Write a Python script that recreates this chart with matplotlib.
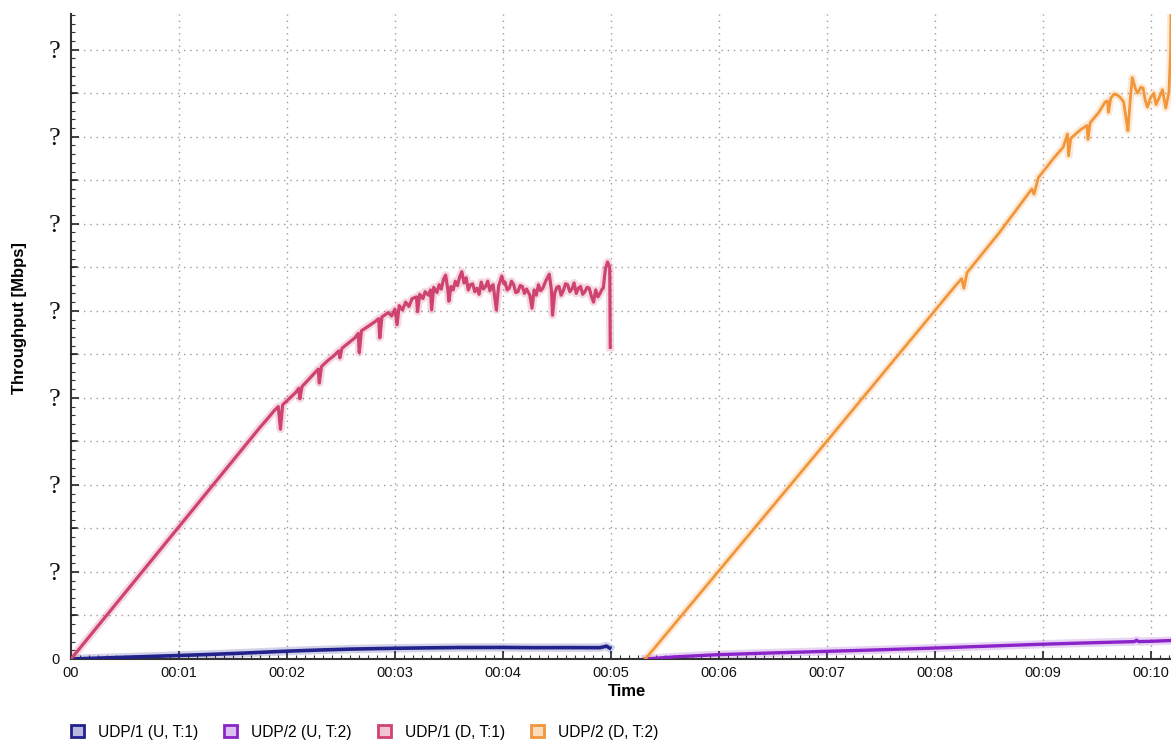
import matplotlib
matplotlib.use('Agg')  # headless backend
from matplotlib import pyplot as plt
from matplotlib.patches import Patch
from matplotlib.ticker import MultipleLocator

plt.rcParams['font.family'] = ['Liberation Sans', 'DejaVu Sans']

# time in minutes, throughput in Mbps
up1_t = [0.0, 0.3, 0.6, 1.0, 1.3, 1.6, 2.0, 2.3, 2.6, 3.0, 3.3, 3.6, 4.0, 4.3, 4.6, 4.9, 4.96, 4.99]
up1_v = [0, 1.2, 2.4, 4.0, 5.3, 6.8, 9.0, 10.3, 11.4, 12.3, 12.8, 13.2, 13.3, 13.0, 13.1, 13.0, 14.8, 12.5]

up2_t = [5.32, 5.6, 6.0, 6.5, 7.0, 7.5, 8.0, 8.5, 9.0, 9.5, 9.85, 9.87, 9.89, 10.0, 10.3]
up2_v = [0, 2.5, 5.0, 7.0, 8.8, 10.6, 12.6, 14.8, 17.0, 18.8, 20.0, 21.5, 20.0, 20.3, 21.8]

down1_t = [0.00, 1.75, 1.82, 1.88, 1.92, 1.94, 1.96, 2.02, 2.08, 2.11, 2.12, 2.14, 2.20, 2.26,
           2.29, 2.30, 2.32, 2.38, 2.44, 2.48, 2.49, 2.51, 2.57, 2.63, 2.66, 2.67, 2.69, 2.75,
           2.81, 2.85, 2.86, 2.88, 2.94, 2.97, 3.00, 3.02, 3.04, 3.07, 3.10, 3.13, 3.16, 3.20,
           3.21, 3.23, 3.26, 3.28, 3.31, 3.33, 3.34, 3.36, 3.39, 3.41, 3.43, 3.45, 3.47, 3.49,
           3.50, 3.52, 3.54, 3.56, 3.58, 3.60, 3.62, 3.64, 3.66, 3.68, 3.70, 3.72, 3.74, 3.76,
           3.78, 3.80, 3.82, 3.84, 3.86, 3.88, 3.90, 3.91, 3.94, 3.96, 3.99, 4.01, 4.02, 4.04,
           4.06, 4.08, 4.10, 4.12, 4.14, 4.16, 4.18, 4.20, 4.22, 4.25, 4.27, 4.29, 4.31, 4.33,
           4.35, 4.37, 4.40, 4.43, 4.45, 4.46, 4.48, 4.50, 4.52, 4.54, 4.56, 4.58, 4.60, 4.62,
           4.64, 4.66, 4.68, 4.70, 4.72, 4.74, 4.76, 4.78, 4.80, 4.82, 4.84, 4.86, 4.88, 4.90,
           4.92, 4.93, 4.95, 4.97, 4.99, 4.995]
down1_v = [0, 266, 276, 285, 290, 264, 292, 299, 306, 311, 299, 313, 321, 329,
           333, 317, 336, 343, 349, 354, 346, 357, 363, 369, 374, 352, 377, 382,
           387, 391, 369, 393, 398, 394, 402, 384, 406, 401, 410, 405, 414, 416,
           399, 419, 414, 422, 418, 424, 401, 427, 421, 430, 425, 436, 441, 425,
           411, 428, 424, 434, 429, 439, 445, 432, 438, 424, 430, 431, 422, 426,
           419, 433, 425, 428, 434, 423, 429, 430, 401, 428, 440, 431, 433, 424,
           426, 434, 430, 421, 422, 429, 428, 420, 425, 418, 403, 424, 418, 430,
           423, 426, 435, 442, 424, 395, 420, 427, 428, 418, 423, 431, 430, 422,
           425, 432, 420, 426, 428, 419, 422, 427, 426, 417, 410, 424, 416, 420,
           425, 426, 448, 456, 450, 358]

down2_t = [5.32, 7.0, 7.9, 8.2, 8.25, 8.27, 8.3, 8.6, 8.9, 8.92, 8.96, 9.1, 9.19, 9.23, 9.24,
           9.26, 9.35, 9.41, 9.42, 9.44, 9.52, 9.58, 9.60, 9.61, 9.63, 9.66, 9.69, 9.72, 9.75,
           9.78, 9.79, 9.81, 9.83, 9.86, 9.88, 9.91, 9.93, 9.95, 9.97, 10.0, 10.03, 10.05,
           10.08, 10.11, 10.14, 10.17, 10.185, 10.19]
down2_v = [0, 250, 385, 430, 437, 426, 444, 490, 540, 534, 553, 575, 588, 603, 578,
           598, 608, 613, 597, 616, 628, 640, 641, 628, 644, 649, 648, 645, 640,
           615, 607, 640, 668, 655, 650, 657, 656, 642, 634, 645, 650, 637,
           645, 654, 633, 651, 700, 760]

series_names = ['UDP/1 (U, T:1)', 'UDP/2 (U, T:2)', 'UDP/1 (D, T:1)', 'UDP/2 (D, T:2)']
line_colors = ['#22228c', '#8a24c9', '#cf446f', '#f2963b']
face_colors = ['#b9b9dd', '#dcc0f0', '#f1c4d3', '#fbdcbf']
line_widths = [2.6, 2.4, 2.3, 2.0]

time_ticks = list(range(11))
time_labels = ['00'] + ['00:%02d' % m for m in range(1, 11)]
rate_ticks = [0, 100, 200, 300, 400, 500, 600, 700]
rate_labels = ['0'] + ['?'] * 7

fig = plt.figure(figsize=(11.71, 7.41), dpi=100)
ax = fig.add_axes([71 / 1171, 82 / 741, 1112 / 1171, 645 / 741])

series = [(up1_t, up1_v), (up2_t, up2_v), (down1_t, down1_v), (down2_t, down2_v)]
# faint halo under each line, then the line itself
for (t, v), c, w in zip(series, line_colors, line_widths):
    ax.plot(t, v, color=c, lw=w + 3.5, alpha=0.2, solid_joinstyle='round', zorder=2)
    ax.plot(t, v, color=c, lw=w, solid_joinstyle='round', zorder=3)

ax.set_xlim(0, 10.3)
ax.set_ylim(0, 741)

ax.set_xticks(time_ticks, time_labels)
ax.xaxis.set_minor_locator(MultipleLocator(1 / 12))
ax.set_yticks(rate_ticks, rate_labels)
ax.yaxis.set_minor_locator(MultipleLocator(10))

ax.tick_params(axis='both', which='major', direction='in', length=6, width=1.2,
               color='#222222', labelcolor='#111111')
ax.tick_params(axis='both', which='minor', direction='in', length=3, width=0.8, color='#333333')
ax.tick_params(axis='x', which='major', labelsize=10.5, pad=5)
ax.tick_params(axis='y', which='major', pad=8)
for lbl in ax.get_yticklabels():
    if lbl.get_text() == '?':
        lbl.set_fontfamily('Liberation Serif')
        lbl.set_fontsize(19)
    else:
        lbl.set_fontsize(10.5)

# half-step markers between the labelled rate ticks
for y in range(50, 741, 100):
    ax.plot([0, 0.055], [y, y], color='#222222', lw=1.2, zorder=4, clip_on=False)

for y in range(50, 741, 50):
    ax.axhline(y, color='#9a9a9a', lw=1.0, ls=(0, (1, 3.5)), zorder=1)
for x in time_ticks[1:]:
    ax.axvline(x, color='#9a9a9a', lw=1.0, ls=(0, (1, 3.5)), zorder=1)

for side in ['top', 'right']:
    ax.spines[side].set_visible(False)
for side in ['left', 'bottom']:
    ax.spines[side].set_color('#333333')
    ax.spines[side].set_linewidth(1.5)

ax.set_xlabel('Time', fontsize=12, fontweight='bold')
ax.xaxis.set_label_coords((627 - 71) / 1112, -(684 - 659) / 645)
ax.set_ylabel('Throughput [Mbps]', fontsize=12, fontweight='bold')
ax.yaxis.set_label_coords((27 - 71) / 1112, (659 - 318) / 645)

handles = [Patch(facecolor=f, edgecolor=e, linewidth=2) for f, e in zip(face_colors, line_colors)]
fig.legend(handles, series_names, loc='center left', bbox_to_anchor=(63 / 1171, 1 - 732 / 741),
           ncol=4, frameon=False, fontsize=11.2, handlelength=0.84, handleheight=0.84,
           handletextpad=0.9, columnspacing=1.67, borderpad=0)

fig.savefig('out.png', dpi=100)
plt.close(fig)
